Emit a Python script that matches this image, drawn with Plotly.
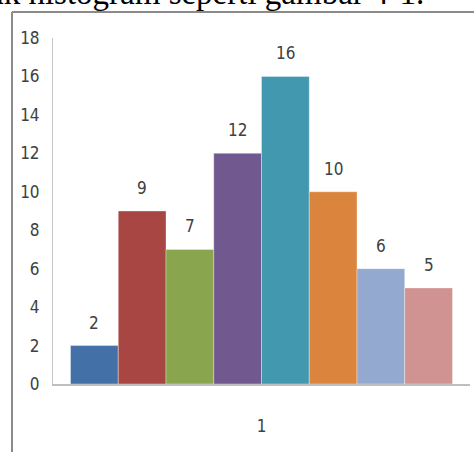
import plotly.graph_objects as go

# Frequency per class, one bar each
categories = ["1"]
values = [2, 9, 7, 12, 16, 10, 6, 5]
colors = ["#4470A8", "#A84643", "#89A54E", "#71588F",
          "#4198AF", "#DB843D", "#93A9CF", "#D19392"]
y_ticks = list(range(0, 19, 2))

W, H = 474, 452
ML, MR, MT, MB = 53, 4, 38, 68
PW, PH = W - ML - MR, H - MT - MB


def px_x(px):
    return (px - ML) / PW


def px_y(py):
    return (H - MB - py) / PH


label_font = dict(family="Liberation Sans Narrow, DejaVu Sans Condensed, sans-serif",
                  size=17, color="#404040")

fig = go.Figure()
for v, c in zip(values, colors):
    fig.add_trace(go.Bar(
        x=categories, y=[v],
        marker=dict(color=c, line=dict(color="rgba(255,255,255,0.35)", width=1)),
        showlegend=False,
    ))

# value labels above each bar
annotations = []
n = len(values)
for i, v in enumerate(values):
    annotations.append(dict(
        x=-0.5 + 0.042 + (i + 0.5) * (1 - 0.084) / n, xref="x",
        y=v, yref="y", text=str(v), showarrow=False,
        yanchor="middle", yshift=23, font=label_font,
    ))

# caption line cut at the top edge
annotations.append(dict(
    x=px_x(-13), xref="paper", xanchor="left",
    y=px_y(13), yref="paper", yanchor="bottom",
    text="ak histogram seperti gambar 4-1.", showarrow=False,
    font=dict(family="Liberation Serif, Times New Roman, serif", size=33, color="#000000"),
))

shapes = [
    dict(type="line", xref="paper", yref="paper",
         x0=px_x(12), x1=px_x(476), y0=px_y(12), y1=px_y(12),
         line=dict(color="#8a8a8a", width=2)),
    dict(type="line", xref="paper", yref="paper",
         x0=px_x(12), x1=px_x(12), y0=px_y(12), y1=px_y(454),
         line=dict(color="#8a8a8a", width=2)),
]

fig.update_layout(
    width=W, height=H,
    margin=dict(l=ML, r=MR, t=MT, b=MB),
    paper_bgcolor="white", plot_bgcolor="white",
    barmode="group", bargap=0.084, bargroupgap=0,
    annotations=annotations, shapes=shapes,
    xaxis=dict(type="category", showgrid=False, showline=True,
               linecolor="#bfbfbf", linewidth=2, ticks="",
               tickfont=label_font, ticklabelstandoff=26,
               range=[-0.5, 0.5]),
    yaxis=dict(range=[0, 18], tickvals=y_ticks, showgrid=False,
               showline=True, linecolor="#c8c8c8", linewidth=1,
               ticks="", tickfont=label_font, ticklabelstandoff=9,
               zeroline=False),
)

fig.write_html("out.html")
